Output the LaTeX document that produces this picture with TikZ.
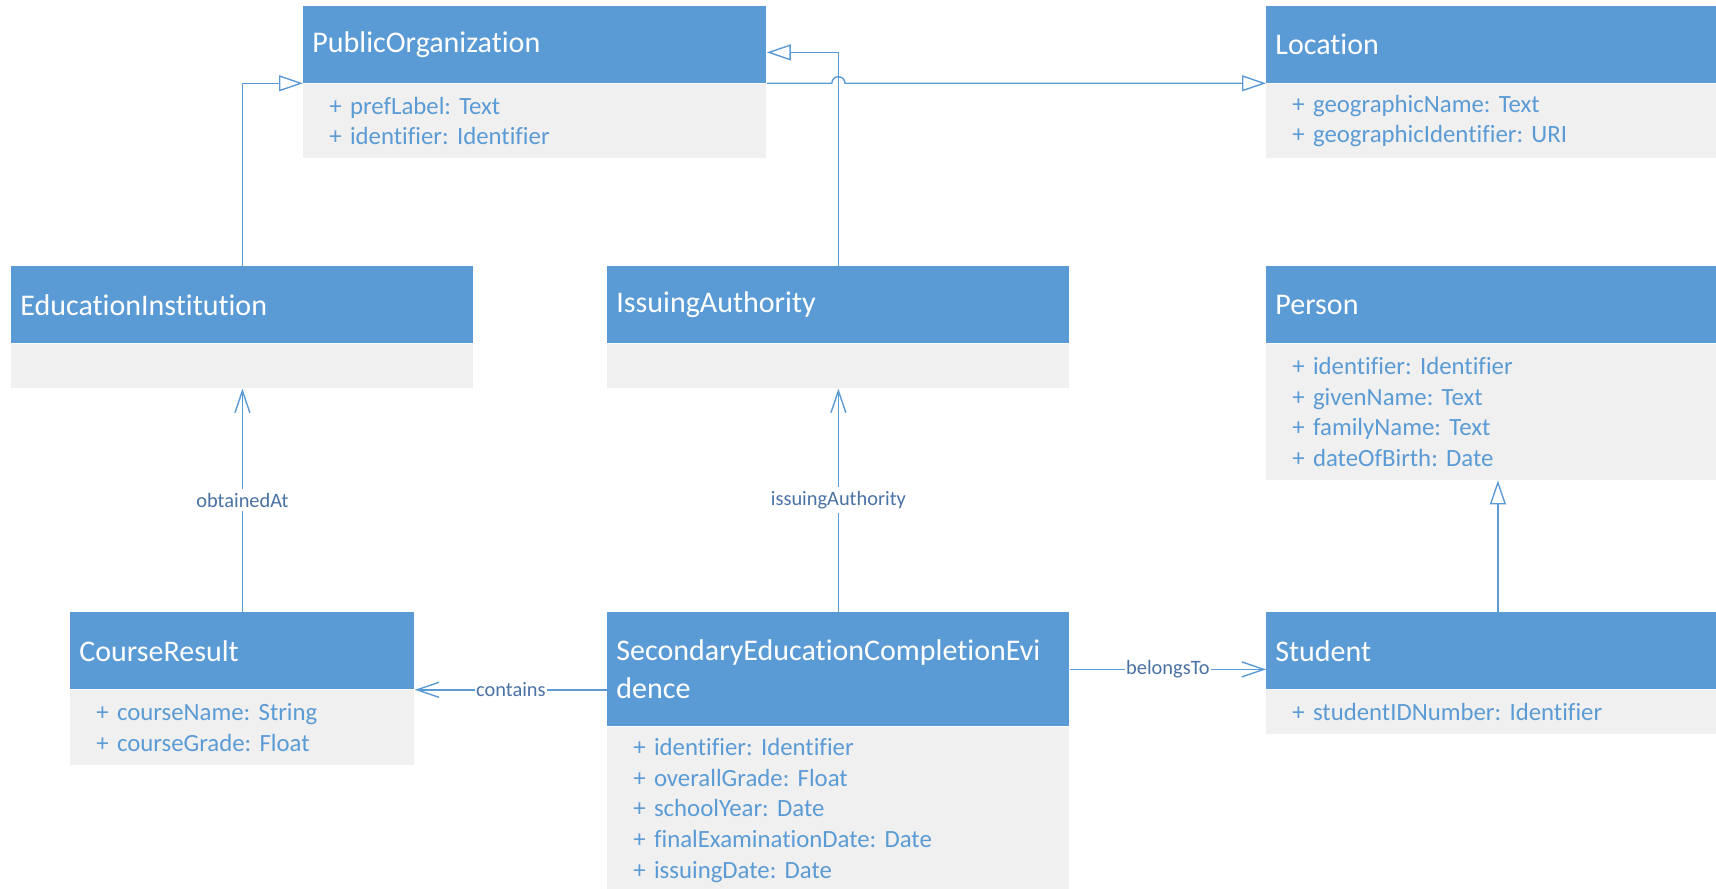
\documentclass[tikz,border=0pt]{standalone}
\usepackage{fontspec}
\setmainfont{Carlito}[Ligatures=NoCommon]
\usepackage{tikz}
\usetikzlibrary{positioning}
\usetikzlibrary{arrows.meta}
\tikzset{>=latex}
\frenchspacing
\definecolor{umlblue}{HTML}{5B9BD5}
\definecolor{umlgray}{HTML}{F0F0F0}
\definecolor{lblblue}{HTML}{4A72A4}
\tikzset{
  hdr/.style={rectangle, fill=umlblue, text=white, anchor=north west, align=left,
    text width=#1, inner xsep=4.5pt, inner ysep=0pt, minimum height=38.5pt,
    font=\fontsize{15}{19}\selectfont},
  body/.style={rectangle, fill=umlgray, text=umlblue, align=left,
    text width=#1, inner xsep=13pt, inner ysep=0pt, minimum height=22pt,
    font=\fontsize{12.4}{15.3}\selectfont},
  conn/.style={draw=umlblue, line width=0.7pt},
  gen/.style={conn, -{Triangle[open, length=12pt, width=8pt]}},
  assoc/.style={conn, -{Straight Barb[length=11pt, width=7.5pt]}},
  lbl/.style={fill=white, text=lblblue, inner xsep=0.5pt, inner ysep=2pt,
    font=\fontsize{10.2}{12}\selectfont}
}
\begin{document}
\begin{tikzpicture}[x=0.5pt, y=-0.5pt]
  \useasboundingbox[fill=white] (0,0) rectangle (1716,888);

  % classes
  \node[hdr=222.5pt] (PO) at (303,5.5) {PublicOrganization};
  \node[body=205.5pt, minimum height=37.3pt, below=0pt of PO] (PO-body)
    {+ prefLabel: Text\\+ identifier: Identifier};

  \node[hdr=222.5pt] (Loc) at (1266,5.5) {Location};
  \node[body=205.5pt, minimum height=37.3pt, below=0pt of Loc] (Loc-body)
    {+ geographicName: Text\\+ geographicIdentifier: URI};

  \node[hdr=222pt] (EI) at (11,266) {EducationInstitution};
  \node[body=205pt, below=0pt of EI] (EI-body) {};

  \node[hdr=222pt] (IA) at (607,266) {IssuingAuthority};
  \node[body=205pt, below=0pt of IA] (IA-body) {};

  \node[hdr=222.5pt] (Person) at (1266,266) {Person};
  \node[body=205.5pt, minimum height=67.9pt, below=0pt of Person] (Person-body)
    {+ identifier: Identifier\\+ givenName: Text\\+ familyName: Text\\+ dateOfBirth: Date};

  \node[hdr=163pt] (CR) at (70,612) {CourseResult};
  \node[body=146pt, minimum height=37.3pt, below=0pt of CR] (CR-body)
    {+ courseName: String\\+ courseGrade: Float};

  \node[hdr=222pt, minimum height=57pt] (SECE) at (607,612)
    {SecondaryEducationCompletionEvi\\dence};
  \node[body=205pt, minimum height=83.2pt, below=0pt of SECE] (SECE-body)
    {+ identifier: Identifier\\+ overallGrade: Float\\+ schoolYear: Date\\+ finalExaminationDate: Date\\+ issuingDate: Date};

  \node[hdr=222.5pt] (Student) at (1266,612) {Student};
  \node[body=205.5pt, below=0pt of Student] (Student-body)
    {+ studentIDNumber: Identifier};

  % generalizations
  \draw[gen] (EI.north) |- (PO.south west);
  \draw[gen] (IA.north) |- ([yshift=-4pt]PO.east);
  \coordinate (hop) at (IA.north |- PO.south east);
  \draw[gen] (PO.south east) -- ([xshift=-3.3pt]hop)
    arc[start angle=180, end angle=0, radius=3.3pt] -- (Loc.south west);
  \draw[gen] (Student.north) -- (Person-body.south);

  % associations
  \draw[assoc] (CR.north) -- node[lbl] {obtainedAt} (EI-body.south);
  \draw[assoc] (SECE.north) -- node[lbl] {issuingAuthority} (IA-body.south);
  \draw[assoc] (SECE.west |- CR.south east) -- node[lbl] {contains} (CR.south east);
  \draw[assoc] (SECE.east) -- node[lbl] {belongsTo} (SECE.east -| Student.west);
\end{tikzpicture}
\end{document}
